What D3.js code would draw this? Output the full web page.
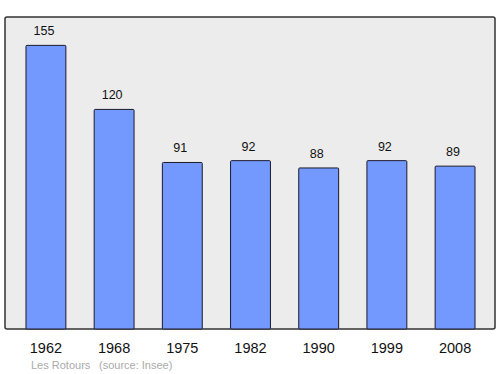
<!DOCTYPE html>
<html>
<head>
<meta charset="utf-8">
<script src="https://cdn.jsdelivr.net/npm/d3@7"></script>
<style>
  body { margin: 0; background: #fff; }
  text { font-family: "Liberation Sans", Arial, sans-serif; }
</style>
</head>
<body>
<div id="chart"></div>
<script>
// population by census year
const years = ["1962", "1968", "1975", "1982", "1990", "1999", "2008"];
const population = [155, 120, 91, 92, 88, 92, 89];
const placeName = "Les Rotours";
const sourceText = "(source: Insee)";

const width = 500, height = 374;
const frame = { left: 5, top: 17, right: 495, bottom: 329 };

const svg = d3.select("#chart").append("svg")
  .attr("width", width)
  .attr("height", height);

// plot background
svg.append("rect")
  .attr("x", frame.left)
  .attr("y", frame.top)
  .attr("width", frame.right - frame.left)
  .attr("height", frame.bottom - frame.top)
  .attr("rx", 2)
  .attr("fill", "#ececec")
  .attr("stroke", "#333")
  .attr("stroke-width", 1.5);

const x = d3.scaleBand()
  .domain(years)
  .range([frame.left + 1, frame.right])
  .paddingInner(0.415)
  .paddingOuter(0.293);

const y = d3.scaleLinear()
  .domain([0, d3.max(population) * 1.1])
  .range([frame.bottom, frame.top]);

const data = years.map((yr, i) => ({ year: yr, value: population[i] }));

svg.append("g").selectAll("rect")
  .data(data)
  .join("rect")
  .attr("x", d => x(d.year))
  .attr("y", d => y(d.value))
  .attr("width", x.bandwidth())
  .attr("height", d => y(0) - y(d.value))
  .attr("rx", 1)
  .attr("fill", "#7399ff")
  .attr("stroke", "#1a1a2a")
  .attr("stroke-width", 1);

// value labels
svg.append("g").selectAll("text")
  .data(data)
  .join("text")
  .attr("x", d => x(d.year) + x.bandwidth() / 2 - 2)
  .attr("y", d => y(d.value) - 10)
  .attr("text-anchor", "middle")
  .attr("font-size", 12.5)
  .attr("fill", "#111")
  .text(d => d.value);

// year labels
svg.append("g").selectAll("text")
  .data(years)
  .join("text")
  .attr("x", d => x(d) + x.bandwidth() / 2)
  .attr("y", 353)
  .attr("text-anchor", "middle")
  .attr("font-size", 14.5)
  .attr("fill", "#111")
  .text(d => d);

// footer
svg.append("text")
  .attr("x", 31)
  .attr("y", 369)
  .attr("font-size", 11)
  .attr("fill", "#aaa")
  .text(placeName);

svg.append("text")
  .attr("x", 99)
  .attr("y", 369)
  .attr("font-size", 11)
  .attr("fill", "#aaa")
  .text(sourceText);
</script>
</body>
</html>
